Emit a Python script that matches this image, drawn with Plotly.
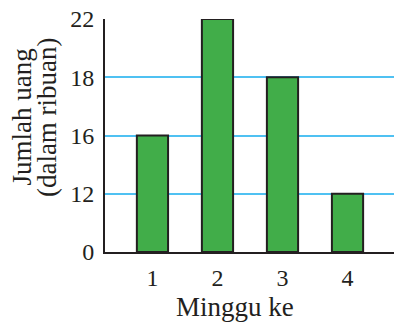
import plotly.graph_objects as go

minggu = [1, 2, 3, 4]
uang = [16, 22, 18, 12]          # jumlah uang (ribuan)
y_levels = [0, 12, 16, 18, 22]   # tick labels, equally spaced on the picture

# the axis is not linear: each level gets its own equal step
y_pos = [y_levels.index(v) for v in uang]

fig = go.Figure()

fig.add_trace(go.Bar(
    x=minggu,
    y=y_pos,
    width=0.48,
    marker=dict(color="#41AD49", line=dict(color="#231F20", width=2)),
    hoverinfo="skip",
))

txt = "#231F20"
serif = "Liberation Serif"

fig.update_layout(
    template="simple_white",
    width=394,
    height=324,
    margin=dict(l=105, r=0, t=19, b=72),
    plot_bgcolor="white",
    paper_bgcolor="white",
    showlegend=False,
    font=dict(family=serif, size=24, color=txt),
    xaxis=dict(
        range=[0.27, 4.715],
        tickvals=minggu,
        ticktext=[str(m) for m in minggu],
        showgrid=False,
        zeroline=False,
        showline=True,
        linecolor=txt,
        linewidth=2,
        ticks="",
        ticklabelstandoff=3,
        tickfont=dict(family=serif, size=24, color=txt),
    ),
    yaxis=dict(
        range=[0, 4],
        tickvals=list(range(len(y_levels))),
        ticktext=[str(v) for v in y_levels],
        showgrid=True,
        gridcolor="#4FC1F2",
        gridwidth=1.5,
        zeroline=False,
        showline=True,
        linecolor=txt,
        linewidth=2,
        ticks="",
        ticklabelstandoff=4,
        tickfont=dict(family=serif, size=24, color=txt),
    ),
    annotations=[
        dict(
            text="Jumlah uang",
            textangle=-90,
            x=-0.2855, y=0.579,
            xref="paper", yref="paper",
            xanchor="center", yanchor="middle",
            showarrow=False,
            font=dict(family=serif, size=27, color=txt),
        ),
        dict(
            text="(dalam ribuan)",
            textangle=-90,
            x=-0.2007, y=0.579,
            xref="paper", yref="paper",
            xanchor="center", yanchor="middle",
            showarrow=False,
            font=dict(family=serif, size=27, color=txt),
        ),
        dict(
            text="Minggu ke",
            x=0.45, y=-0.235,
            xref="paper", yref="paper",
            xanchor="center", yanchor="middle",
            showarrow=False,
            font=dict(family=serif, size=27, color=txt),
        ),
    ],
)

fig.write_html(
    "out.html",
    config={"displayModeBar": False},
    post_script="document.body.style.margin='0';",
)
